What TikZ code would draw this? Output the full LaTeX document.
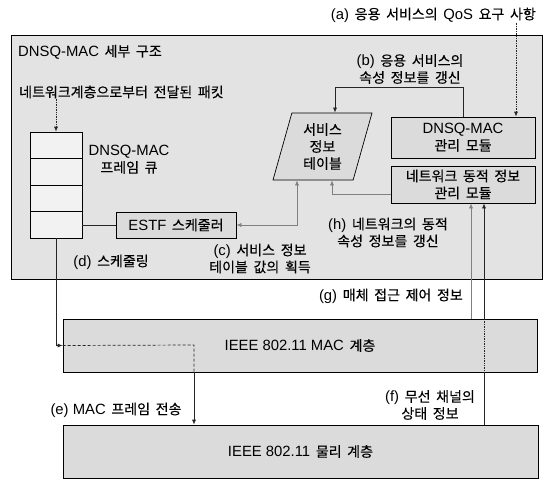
\documentclass[tikz,border=0pt]{standalone}
\usepackage{fontspec}
\setmainfont{Noto Sans CJK KR}[WordSpace=1.8, FakeBold=0.3]
\newfontfamily\lat{Liberation Sans}[Scale=1.06]
\newcommand\eng[1]{{\lat #1}}
\usetikzlibrary{
	arrows.meta,
	calc,
	positioning,
	shapes.geometric,
}
\tikzset{
	box/.style={
		draw,
		rectangle,
		fill=gray!28,
		inner sep=0mm,
		align=center,
		line width=0.7pt,
	},
	layer/.style={box, minimum width=474, minimum height=53},
	cell/.style={box, fill=gray!10, minimum width=52, minimum height=26.5},
	lbl/.style={inner sep=0mm, align=center},
	conn/.style={line width=0.7pt, black!85},
	pale/.style={conn, black!50},
}

\begin{document}
\begin{tikzpicture}[x=1pt,y=-1pt,>={Latex[length=5pt,width=4pt]},
	every node/.append style={font=\fontsize{14}{17}\selectfont}]
\useasboundingbox (0,0) rectangle (549,479);

\node[box, fill=gray!22, minimum width=531, minimum height=244] (frame) at (276.5,157) {};
\node[lbl, anchor=west] (title) at (18,52) {\eng{DNSQ-MAC} 세부 구조};
\node[lbl, anchor=west] (pkt) at (19,92) {네트워크계층으로부터 전달된 패킷};

\foreach[count=\i] \y in {145.25,171.75,198.25,224.75}{
	\node[cell] (q\i) at (56,\y) {};
}
\node[lbl] (qname) at (129,159.5) {\eng{DNSQ-MAC}\\프레임 큐};

\node[box, minimum width=120, minimum height=26] (estf) at (176,225) {\eng{ESTF} 스케줄러};
\node[box, shape=trapezium, trapezium left angle=68, trapezium right angle=112,
	trapezium stretches body, minimum width=99, minimum height=67] (table) at (322.5,146.5) {서비스\\정보\\테이블};
\node[box, minimum width=144, minimum height=41] (mgr) at (463,137.5) {\eng{DNSQ-MAC}\\관리 모듈};
\node[box, minimum width=144, minimum height=37] (net) at (463,184.5) {네트워크 동적 정보\\관리 모듈};

\node[layer] (mac) at (300,345.5) {\eng{IEEE 802.11 MAC} 계층};
\node[layer, minimum width=475] (phy) at (300.5,451.5) {\eng{IEEE 802.11} 물리 계층};

% labels
\node[lbl, anchor=east] (la) at (536,15) {\eng{(a)} 응용 서비스의 \eng{QoS} 요구 사항};
\node[lbl] (lb) at (410,69) {\eng{(b)} 응용 서비스의\\속성 정보를 갱신};
\node[lbl] (lc) at (260,258.5) {\eng{(c)} 서비스 정보\\테이블 값의 획득};
\node[lbl] (ld) at (111,262) {\eng{(d)} 스케줄링};
\node[lbl] (le) at (116,410) {\eng{(e) MAC} 프레임 전송};
\node[lbl] (lf) at (430,405) {\eng{(f)} 무선 채널의\\상태 정보};
\node[lbl, anchor=east] (lg) at (463,296) {\eng{(g)} 매체 접근 제어 정보};
\node[lbl] (lh) at (388,232.5) {\eng{(h)} 네트워크의 동적\\속성 정보를 갱신};

\coordinate (aa) at (516,0);
\coordinate (bb) at (335,87);
\coordinate (cc) at (297,224);
\coordinate (hh) at (332,194);
\coordinate (ee) at (194,345);
\coordinate (gg) at (471,0);
\coordinate (ff) at (484,0);

\draw[conn, densely dotted, ->] (pkt.south -| q1.north) -- (q1.north);
\draw[conn, densely dotted, ->] (la.south -| aa) -- (aa |- mgr.north);
\draw[conn, ->] (mgr.north) |- (bb) -- (bb |- table.north);
\draw[pale, <->] (cc |- table.south) |- (estf.east);
\draw[pale, ->] (net.west |- hh) -| (hh |- table.south);
\draw[conn] (q1.south east |- estf.west) -- (estf.west);

\draw[conn, ->] (q4.south) |- (mac.west);
\draw[conn, densely dashed] (mac.west) -- (ee) -- (ee |- mac.south);
\draw[conn, ->] (ee |- mac.south) -- (ee |- phy.north);

\draw[pale, ->] (gg |- mac.north) -- (gg |- net.south);
\draw[conn] (ff |- phy.north) -- (ff |- mac.south);
\draw[conn, densely dotted] (ff |- mac.south) -- (ff |- mac.north);
\draw[conn, ->] (ff |- mac.north) -- (ff |- net.south);

\end{tikzpicture}
\end{document}
